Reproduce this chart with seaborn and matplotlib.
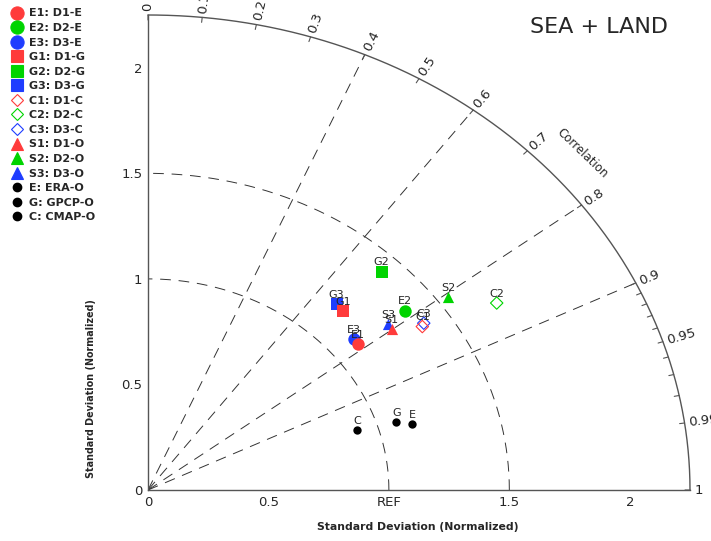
import numpy as np
import pandas as pd
import matplotlib
matplotlib.use('Agg')
import matplotlib.pyplot as plt
import seaborn as sns
from matplotlib.lines import Line2D

# values (normalized std, correlation)
names = ['E1', 'E2', 'E3', 'G1', 'G2', 'G3', 'C1', 'C2', 'C3', 'S1', 'S2', 'S3', 'E', 'G', 'C']
legend_labels = ['E1: D1-E', 'E2: D2-E', 'E3: D3-E', 'G1: D1-G', 'G2: D2-G', 'G3: D3-G',
                 'C1: D1-C', 'C2: D2-C', 'C3: D3-C', 'S1: D1-O', 'S2: D2-O', 'S3: D3-O',
                 'E: ERA-O', 'G: GPCP-O', 'C: CMAP-O']
std_dev = [1.111, 1.363, 1.114, 1.173, 1.418, 1.179, 1.377, 1.697, 1.391,
           1.266, 1.546, 1.270, 1.141, 1.079, 0.915]
correlation = [0.784, 0.782, 0.768, 0.690, 0.684, 0.664, 0.827, 0.853, 0.823,
               0.799, 0.806, 0.785, 0.962, 0.955, 0.950]

corr_ticks = [0, 0.1, 0.2, 0.3, 0.4, 0.5, 0.6, 0.7, 0.8, 0.9, 0.95, 0.99, 1]
corr_minor = [0.91, 0.92, 0.93, 0.94, 0.96, 0.97, 0.98]
corr_lines = [0.4, 0.6, 0.8, 0.9]
std_arcs = [1.0, 1.5]
std_ticks = [0, 0.5, 1, 1.5, 2]
x_tick_labels = ['0', '0.5', 'REF', '1.5', '2']
R = 2.25

colors = {'1': '#ff3b3b', '2': '#00d400', '3': '#1f3dff'}
marker_of = {'E': 'o', 'G': 's', 'C': 'D', 'S': '^'}
size_of = {'o': 80, 's': 75, 'D': 40, '^': 65}

df = pd.DataFrame({'name': names, 'std': std_dev, 'corr': correlation})
df['x'] = df['std'] * df['corr']
df['y'] = df['std'] * np.sqrt(1 - df['corr'] ** 2)

sns.set_style('white')
plt.rcParams['font.family'] = ['DejaVu Sans']

fig = plt.figure(figsize=(7.11, 5.41), dpi=100)
ax = fig.add_axes([148 / 711, 51 / 541, 542 / 711, 475 / 541])
ax.set_xlim(0, R)
ax.set_ylim(0, R)
for s in ['top', 'right']:
    ax.spines[s].set_visible(False)
for s in ['left', 'bottom']:
    ax.spines[s].set_color('#555555')
    ax.spines[s].set_linewidth(1)

dash = (0, (11, 8))
lc = '#333333'
t = np.linspace(0, np.pi / 2, 300)
ax.plot(R * np.cos(t), R * np.sin(t), color='#555555', lw=1, clip_on=False)
for a in std_arcs:
    ax.plot(a * np.cos(t), a * np.sin(t), color=lc, lw=0.7, ls=dash)
for c in corr_lines:
    ax.plot([0, R * c], [0, R * np.sqrt(1 - c ** 2)], color=lc, lw=0.7, ls=dash)

# draw the points, blue first so red sits on top
order = [n for n in names if n.endswith('3')] + [n for n in names if n.endswith('2')] + \
        [n for n in names if n.endswith('1')] + ['E', 'G', 'C']
for n in order:
    sub = df[df['name'] == n]
    if len(n) == 1:
        sns.scatterplot(data=sub, x='x', y='y', color='black', marker='o', s=36,
                        edgecolor='black', linewidth=0, ax=ax, zorder=3)
    else:
        m = marker_of[n[0]]
        c = colors[n[1]]
        if m == 'D':
            sns.scatterplot(data=sub, x='x', y='y', marker='D', s=size_of[m],
                            facecolor='none', edgecolor=c, linewidth=0.8, ax=ax, zorder=3)
        else:
            sns.scatterplot(data=sub, x='x', y='y', color=c, marker=m, s=size_of[m],
                            edgecolor=c, linewidth=0, ax=ax, zorder=3)
for _, r in df.iterrows():
    ax.annotate(r['name'], (r['x'], r['y']), xytext=(0, 3), textcoords='offset points',
                ha='center', va='bottom', fontsize=8, zorder=4)

ax.set_xticks(std_ticks)
ax.set_xticklabels(x_tick_labels)
ax.set_yticks(std_ticks)
ax.set_yticklabels(['0', '0.5', '1', '1.5', '2'])
ax.tick_params(direction='in', length=4, width=0.8, color='#555555', labelsize=9.5, pad=4)
ax.set_xlabel('')
ax.set_ylabel('')

# correlation ticks and labels along the outer arc
fig.canvas.draw()
def screen_angle(c):
    p0 = ax.transData.transform((0, 0))
    p1 = ax.transData.transform((R * c, R * np.sqrt(1 - c ** 2)))
    return np.degrees(np.arctan2(p1[1] - p0[1], p1[0] - p0[0]))

for c in corr_ticks + corr_minor:
    xe, ye = R * c, R * np.sqrt(1 - c ** 2)
    ang = np.radians(screen_angle(c))
    ax.annotate('', xy=(xe, ye), xytext=(-5 * np.cos(ang), -5 * np.sin(ang)),
                textcoords='offset pixels',
                arrowprops=dict(arrowstyle='-', color='#555555', lw=0.8, shrinkA=0, shrinkB=0))
for c in corr_ticks:
    xe, ye = R * c, R * np.sqrt(1 - c ** 2)
    a = screen_angle(c)
    ax.annotate(f'{c:g}', (xe, ye), xytext=(3 * np.cos(np.radians(a)), 3 * np.sin(np.radians(a))),
                textcoords='offset points', rotation=a, rotation_mode='anchor',
                ha='left', va='center', fontsize=9.5, annotation_clip=False)

ax.text(1.805, 1.595, 'Correlation', rotation=-44, ha='center', va='center', fontsize=8.5)
ax.text(2.25 * 0.96, 2.25 * 0.975, 'SEA + LAND', ha='right', va='center', fontsize=16)

fig.text(418 / 711, 1 - 527 / 541, 'Standard Deviation (Normalized)', ha='center', va='center',
         fontsize=7.8, fontweight='bold')
fig.text(91 / 711, 1 - 389 / 541, 'Standard Deviation (Normalized)', ha='center', va='center',
         rotation=90, fontsize=6.9, fontweight='bold')

handles = []
for n in names:
    if len(n) == 1:
        handles.append(Line2D([], [], ls='none', marker='o', markersize=6, color='black'))
    else:
        m = marker_of[n[0]]
        c = colors[n[1]]
        ms = {'o': 9.5, 's': 9, 'D': 6.5, '^': 8.5}[m]
        fc = 'none' if m == 'D' else c
        handles.append(Line2D([], [], ls='none', marker=m, markersize=ms,
                              markerfacecolor=fc, markeredgecolor=c, markeredgewidth=0.8))
fig.legend(handles, legend_labels, loc='upper left', bbox_to_anchor=(6 / 711, 1 - 4 / 541),
           frameon=False, prop={'weight': 'bold', 'size': 8}, handlelength=1.2, handletextpad=0.5,
           labelspacing=0.41, borderpad=0.2, borderaxespad=0.2)

fig.savefig('out.png', dpi=100)
